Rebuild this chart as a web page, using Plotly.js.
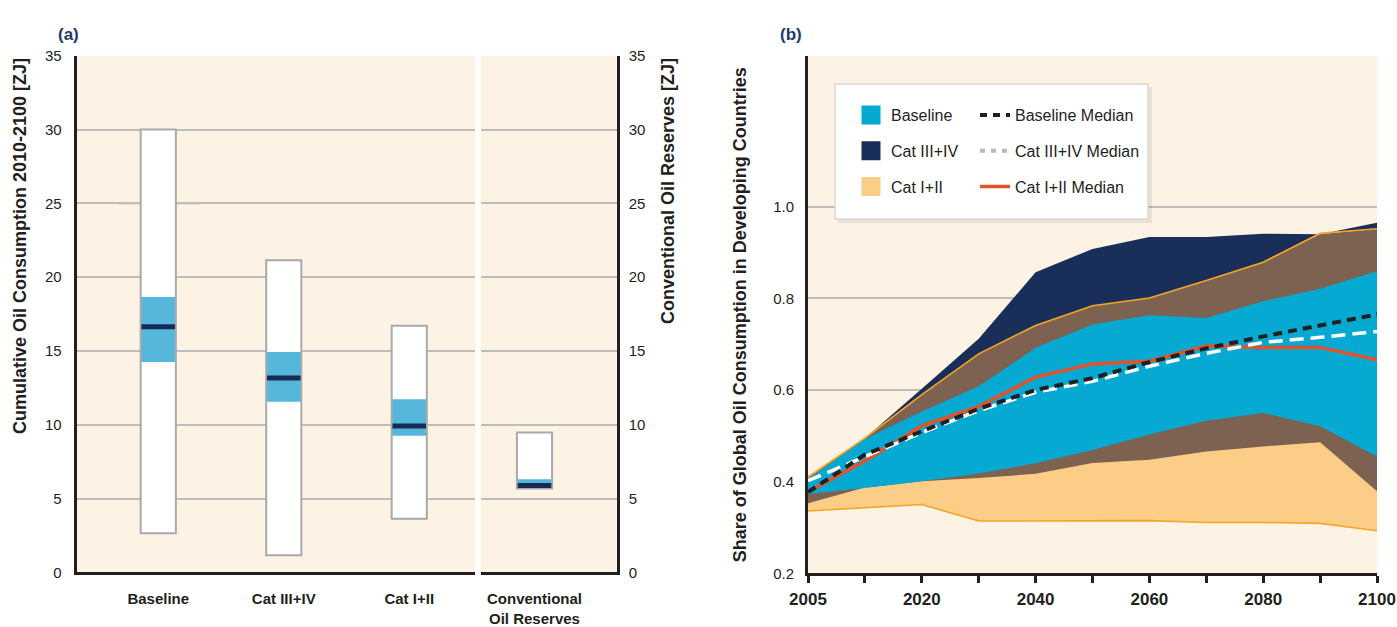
<!DOCTYPE html>
<html>
<head>
<meta charset="utf-8">
<script src="https://cdn.plot.ly/plotly-3.0.1.min.js"></script>
<style>
html,body{margin:0;padding:0;background:#fff;}
#chart{width:1397px;height:627px;}
</style>
</head>
<body>
<div id="chart"></div>
<script>
// ---------- Panel (a) data: cumulative oil consumption 2010-2100 [ZJ] ----------
const consumptionCategories = ['Baseline', 'Cat III+IV', 'Cat I+II'];
const consumptionMin        = [2.65, 1.15, 3.62];
const consumptionMax        = [30.0, 21.15, 16.7];
const consumptionBandLow    = [14.25, 11.55, 9.25];
const consumptionBandHigh   = [18.65, 14.92, 11.73];
const consumptionMedian     = [16.63, 13.17, 9.92];

const reserveCategories = ['Conventional<br>Oil Reserves'];
const reserveMin        = [5.68];
const reserveMax        = [9.47];
const reserveBandLow    = [5.72];
const reserveBandHigh   = [6.3];
const reserveMedian     = [5.88];

const yTicksA = [0, 5, 10, 15, 20, 25, 30, 35];
const baselineMarkLevel = [25];

// ---------- Panel (b) data: share of global oil consumption in developing countries ----------
const years      = ['2005','2010','2020','2030','2040','2050','2060','2070','2080','2090','2100'];
const yearLabels = ['2005','','2020','','2040','','2060','','2080','','2100'];

const baselineLow  = [0.373, 0.386, 0.401, 0.418, 0.440, 0.469, 0.503, 0.533, 0.550, 0.521, 0.455];
const baselineHigh = [0.405, 0.493, 0.553, 0.608, 0.692, 0.743, 0.763, 0.757, 0.794, 0.821, 0.859];
const cat34Low     = [0.353, 0.387, 0.401, 0.408, 0.417, 0.441, 0.448, 0.466, 0.477, 0.486, 0.379];
const cat34High    = [0.408, 0.495, 0.603, 0.712, 0.857, 0.908, 0.934, 0.934, 0.941, 0.940, 0.965];
const cat12Low     = [0.336, 0.343, 0.350, 0.314, 0.314, 0.314, 0.315, 0.311, 0.311, 0.309, 0.293];
const cat12High    = [0.410, 0.495, 0.590, 0.679, 0.741, 0.784, 0.801, 0.839, 0.879, 0.942, 0.952];

const baselineMedian = [0.377, 0.459, 0.510, 0.559, 0.600, 0.626, 0.661, 0.691, 0.717, 0.742, 0.765];
const cat34Median    = [0.402, 0.455, 0.507, 0.555, 0.595, 0.619, 0.652, 0.680, 0.704, 0.715, 0.728];
const cat12Median    = [0.378, 0.445, 0.522, 0.564, 0.628, 0.657, 0.663, 0.696, 0.693, 0.693, 0.666];

const yTicksB     = [0.2, 0.4, 0.6, 0.8, 1.0];
const yTickTextB  = ['0.2', '0.4', '0.6', '0.8', '1.0'];

// ---------- derived ----------
const diff = (a, b) => a.map((v, i) => v - b[i]);
const overlapLow  = cat34Low.map((v, i) => Math.max(v, cat12Low[i]));
const overlapHigh = cat34High.map((v, i) => Math.min(v, cat12High[i]));

// ---------- styles ----------
const W = 1397, H = 627;
const FONT = "'Liberation Sans', Arial, sans-serif";
const FONT_N = "'Liberation Sans Narrow', 'Liberation Sans', Arial, sans-serif";
const INK = '#231f20';
const C_BLUE = '#05a9d1', C_NAVY = '#1a2e5a', C_ORANGE = '#fbcd87', C_BROWN = '#7d6252';
const C_EDGE = '#f5a623', C_RED = '#e4522a';
const BAR_W = 0.28;

const traces = [];

function boxTraces(cats, mn, mx, bl, bh, med, xa, ya) {
  traces.push({type:'bar', x:cats, base:mn, y:diff(mx, mn), width:BAR_W, xaxis:xa, yaxis:ya,
    marker:{color:'#ffffff', line:{width:0}}, showlegend:false, hoverinfo:'skip'});
  traces.push({type:'bar', x:cats, base:bl, y:diff(bh, bl), width:BAR_W, xaxis:xa, yaxis:ya,
    marker:{color:'#56b7dc', line:{width:0}}, showlegend:false, hoverinfo:'skip'});
  traces.push({type:'scatter', mode:'markers', x:cats, y:med, xaxis:xa, yaxis:ya,
    marker:{symbol:'line-ew', size:24, color:'#172b55', line:{width:5, color:'#172b55'}},
    showlegend:false, hoverinfo:'skip', cliponaxis:false});
  traces.push({type:'bar', x:cats, base:mn, y:diff(mx, mn), width:BAR_W, xaxis:xa, yaxis:ya,
    marker:{color:'rgba(0,0,0,0)', line:{width:2, color:'#a7a9ac'}}, showlegend:false, hoverinfo:'skip'});
}
boxTraces(consumptionCategories, consumptionMin, consumptionMax, consumptionBandLow, consumptionBandHigh, consumptionMedian, 'x', 'y');
boxTraces(reserveCategories, reserveMin, reserveMax, reserveBandLow, reserveBandHigh, reserveMedian, 'x2', 'y2');

function band(low, high, color) {
  traces.push({type:'scatter', mode:'lines', x:years, y:low, xaxis:'x3', yaxis:'y3',
    line:{width:0, color:color}, showlegend:false, hoverinfo:'skip'});
  traces.push({type:'scatter', mode:'lines', x:years, y:high, xaxis:'x3', yaxis:'y3',
    fill:'tonexty', fillcolor:color, line:{width:0, color:color}, showlegend:false, hoverinfo:'skip'});
}
band(cat34Low, cat34High, C_NAVY);
band(cat12Low, cat12High, C_ORANGE);
band(overlapLow, overlapHigh, C_BROWN);
band(baselineLow, baselineHigh, C_BLUE);

// Cat I+II edge lines
[cat12High, cat12Low].forEach(arr => traces.push({type:'scatter', mode:'lines', x:years, y:arr,
  xaxis:'x3', yaxis:'y3', line:{width:1.6, color:C_EDGE}, showlegend:false, hoverinfo:'skip'}));

// medians
traces.push({type:'scatter', mode:'lines', x:years, y:cat12Median, xaxis:'x3', yaxis:'y3',
  line:{width:3.5, color:C_RED}, showlegend:false, hoverinfo:'skip'});
traces.push({type:'scatter', mode:'lines', x:years, y:cat34Median, xaxis:'x3', yaxis:'y3',
  line:{width:3.5, color:'#ffffff', dash:'14px,7px'}, showlegend:false, hoverinfo:'skip'});
traces.push({type:'scatter', mode:'lines', x:years, y:baselineMedian, xaxis:'x3', yaxis:'y3',
  line:{width:4, color:INK, dash:'9px,6px'}, showlegend:false, hoverinfo:'skip'});

// legend entries
function swatch(name, color, grp) {
  traces.push({type:'scatter', mode:'markers', x:[null], y:[null], xaxis:'x3', yaxis:'y3', name:name,
    legend:'legend', legendgroup:grp, marker:{symbol:'square', size:16, color:color, line:{width:3, color:color}},
    hoverinfo:'skip'});
}
swatch('Baseline', C_BLUE, 'g1');
swatch('Cat III+IV', C_NAVY, 'g2');
swatch('Cat I+II', C_ORANGE, 'g3');
function lineEntry(name, line, grp) {
  traces.push({type:'scatter', mode:'lines', x:[null], y:[null], xaxis:'x3', yaxis:'y3', name:name,
    legend:'legend2', legendgroup:grp, line:line, hoverinfo:'skip'});
}
lineEntry('Baseline Median', {width:4, color:INK, dash:'7px,6px'}, 'h1');
lineEntry('Cat III+IV Median', {width:4, color:'#b9b9b9', dash:'5px,6px'}, 'h2');
lineEntry('Cat I+II Median', {width:3.5, color:C_RED}, 'h3');

const hidden = 'rgba(0,0,0,0)';
const yDomA = [(H - 572.3) / H, (H - 55.7) / H];
const yDomB = [(H - 573.3) / H, (H - 56) / H];
const tickFontY = {family:FONT, size:15, color:INK};
const tickFontX = {family:FONT, size:15, color:INK, weight:'bold'};

const layout = {
  width:W, height:H,
  margin:{l:0, r:0, t:0, b:0},
  paper_bgcolor:'#ffffff',
  plot_bgcolor:'#fdf3e4',
  barmode:'overlay',
  showlegend:true,
  xaxis:{domain:[76.7/W, 475/W], anchor:'y', type:'category', range:[-0.65, 2.524],
    showline:true, linewidth:3, linecolor:INK, showgrid:false, zeroline:false,
    ticks:'outside', ticklen:11, tickcolor:hidden, tickfont:tickFontX, fixedrange:true},
  yaxis:{domain:yDomA, anchor:'x', range:[0, 35], tickvals:yTicksA,
    showgrid:true, gridcolor:'#bdbdbd', gridwidth:2, zeroline:false,
    showline:true, linewidth:3, linecolor:INK,
    ticks:'outside', ticklen:9, tickcolor:hidden, tickfont:tickFontY, fixedrange:true},
  xaxis2:{domain:[481/W, 616.7/W], anchor:'y2', type:'category', range:[-0.426, 0.655],
    showline:true, linewidth:3, linecolor:INK, showgrid:false, zeroline:false,
    ticks:'outside', ticklen:11, tickcolor:hidden, tickfont:tickFontX, fixedrange:true},
  yaxis2:{domain:yDomA, anchor:'x2', side:'right', range:[0, 35], tickvals:yTicksA,
    showgrid:true, gridcolor:'#bdbdbd', gridwidth:2, zeroline:false,
    showline:true, linewidth:3, linecolor:INK,
    ticks:'outside', ticklen:6, tickcolor:hidden, tickfont:tickFontY, fixedrange:true},
  xaxis3:{domain:[808/W, 1377/W], anchor:'y3', type:'category', range:[0, 10],
    tickvals:years, ticktext:yearLabels,
    showline:true, linewidth:3, linecolor:INK, showgrid:false, zeroline:false,
    ticks:'outside', ticklen:7, tickwidth:3, tickcolor:INK,
    tickfont:{family:FONT, size:17, color:INK, weight:'bold'}, ticklabelstandoff:1, fixedrange:true},
  yaxis3:{domain:yDomB, anchor:'x3', range:[0.2, 1.329], tickvals:yTicksB, ticktext:yTickTextB,
    showgrid:true, gridcolor:'#bdbdbd', gridwidth:2, zeroline:false,
    showline:true, linewidth:3, linecolor:INK,
    ticks:'outside', ticklen:8, tickcolor:hidden, tickfont:{family:FONT, size:15, color:INK}, fixedrange:true,
    title:{text:'Share of Global Oil Consumption in Developing Countries', standoff:22,
      font:{family:FONT, size:18, color:INK, weight:'bold'}}},
  legend:{x:851/W, y:1 - 98/H, xanchor:'left', yanchor:'top', bgcolor:hidden, borderwidth:0,
    traceorder:'grouped', tracegroupgap:12, font:{family:FONT_N, size:16, color:INK}},
  legend2:{x:975/W, y:1 - 98/H, xanchor:'left', yanchor:'top', bgcolor:hidden, borderwidth:0,
    traceorder:'grouped', tracegroupgap:12, font:{family:FONT_N, size:16, color:INK}},
  shapes:[
    {type:'line', xref:'x', yref:'y', x0:-0.32, x1:0.33, y0:baselineMarkLevel[0], y1:baselineMarkLevel[0],
      line:{color:'#b3a796', width:2}, layer:'below'},
    {type:'rect', xref:'paper', yref:'paper', x0:838/W, x1:1152/W, y0:1 - 223/H, y1:1 - 87/H,
      fillcolor:'rgba(0,0,0,0.07)', line:{width:0}, layer:'above'},
    {type:'rect', xref:'paper', yref:'paper', x0:835/W, x1:1148/W, y0:1 - 219/H, y1:1 - 84/H,
      fillcolor:'#ffffff', line:{color:'#d9d9d9', width:1.5}, layer:'above'}
  ],
  annotations:[
    {text:'<b>(a)</b>', xref:'paper', yref:'paper', x:56/W, y:1 - 23/H, showarrow:false,
      font:{family:FONT, size:17, color:'#1d3a6c'}},
    {text:'<b>(b)</b>', xref:'paper', yref:'paper', x:791/W, y:1 - 23/H, showarrow:false,
      font:{family:FONT, size:17, color:'#1d3a6c'}},
    {text:'<b>Cumulative Oil Consumption 2010-2100 [ZJ]</b>', xref:'paper', yref:'paper',
      x:20/W, y:1 - 56/H, xanchor:'center', yanchor:'top', textangle:-90, showarrow:false,
      font:{family:FONT, size:18, color:INK}},
    {text:'<b>Conventional Oil Reserves [ZJ]</b>', xref:'paper', yref:'paper',
      x:668/W, y:1 - 56/H, xanchor:'center', yanchor:'top', textangle:-90, showarrow:false,
      font:{family:FONT, size:18, color:INK}}
  ]
};

Plotly.newPlot('chart', traces, layout, {staticPlot:true, displayModeBar:false});
</script>
</body>
</html>
